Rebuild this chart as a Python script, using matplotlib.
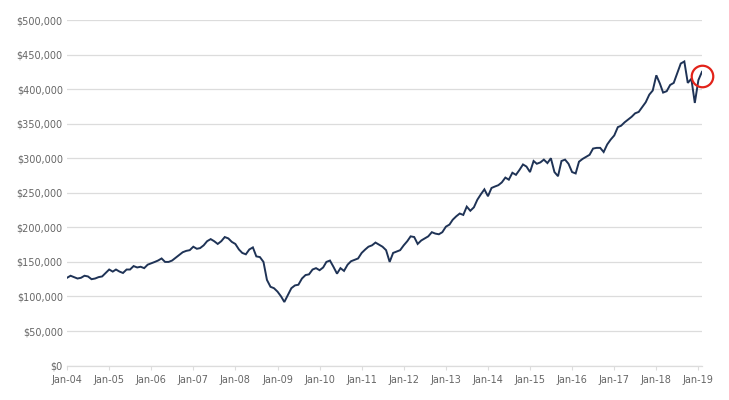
import numpy as np
import matplotlib
matplotlib.use('Agg')
import matplotlib.pyplot as plt
import pandas as pd
from matplotlib.ticker import FuncFormatter

# monthly portfolio value, Jan-2004 .. Feb-2019 (in $k)
values_k = [
    127, 130, 128, 126, 127, 130, 129, 125, 126, 128, 129, 134,   # 2004
    139, 136, 139, 136, 134, 139, 139, 144, 142, 143, 141, 146,   # 2005
    148, 150, 152, 155, 150, 150, 152, 156, 160, 164, 166, 167,   # 2006
    172, 169, 170, 174, 180, 183, 180, 176, 180, 186, 184, 179,   # 2007
    176, 168, 163, 161, 168, 171, 158, 157, 150, 124, 114, 112,   # 2008
    107, 100, 92, 102, 112, 116, 117, 126, 131, 132, 139, 141,    # 2009
    138, 142, 150, 152, 143, 133, 141, 137, 146, 151, 153, 155,   # 2010
    163, 168, 172, 174, 178, 175, 172, 167, 150, 163, 165, 167,   # 2011
    174, 180, 187, 186, 176, 181, 184, 187, 193, 191, 190, 193,   # 2012
    201, 204, 211, 216, 220, 218, 230, 224, 229, 240, 248, 255,   # 2013
    245, 257, 259, 261, 265, 272, 269, 279, 276, 283, 291, 288,   # 2014
    280, 296, 292, 294, 298, 293, 300, 280, 274, 296, 298, 292,   # 2015
    280, 278, 295, 299, 302, 305, 314, 315, 315, 309, 320, 327,   # 2016
    333, 345, 347, 352, 356, 360, 365, 367, 374, 381, 392, 398,   # 2017
    420, 408, 395, 397, 406, 409, 423, 437, 440, 409, 415, 380,   # 2018
    413, 425,                                                     # 2019
]
values = np.array(values_k) * 1000.0
dates = pd.date_range('2004-01-01', periods=len(values), freq='MS')

tick_years = list(range(2004, 2020))
tick_labels = ['Jan-%02d' % (y % 100) for y in tick_years]
highlight_y = 419000  # red circle round the latest reading

line_col = '#1f3356'
grid_col = '#dcdcdc'
text_col = '#666666'

fig = plt.figure(figsize=(7.29, 4.0), dpi=100)
ax = fig.add_axes([0.0919, 0.086, 0.871, 0.864])

ax.plot(dates, values, color=line_col, lw=1.4, solid_joinstyle='miter')
ax.plot([dates[-1]], [highlight_y], marker='o', markersize=15.5,
        markerfacecolor='none', markeredgecolor='#e2231a', markeredgewidth=1.6,
        clip_on=False, zorder=5)

ax.set_ylim(0, 500000)
ax.set_yticks(np.arange(0, 500001, 50000))
ax.yaxis.set_major_formatter(FuncFormatter(lambda v, p: '${:,.0f}'.format(v)))
ax.set_xlim(dates[0], dates[-1])
ax.set_xticks([pd.Timestamp('%d-01-01' % y) for y in tick_years])
ax.set_xticklabels(tick_labels)

ax.grid(axis='y', color=grid_col, lw=0.9)
ax.set_axisbelow(True)
for s in ['top', 'right', 'left']:
    ax.spines[s].set_visible(False)
ax.spines['bottom'].set_color(grid_col)
ax.spines['bottom'].set_linewidth(0.9)

ax.tick_params(axis='y', length=0, pad=3, labelsize=7.0, labelcolor=text_col)
ax.tick_params(axis='x', length=3, color=grid_col, pad=4, labelsize=7.0,
               labelcolor=text_col)

plt.savefig('out.png', dpi=100)
